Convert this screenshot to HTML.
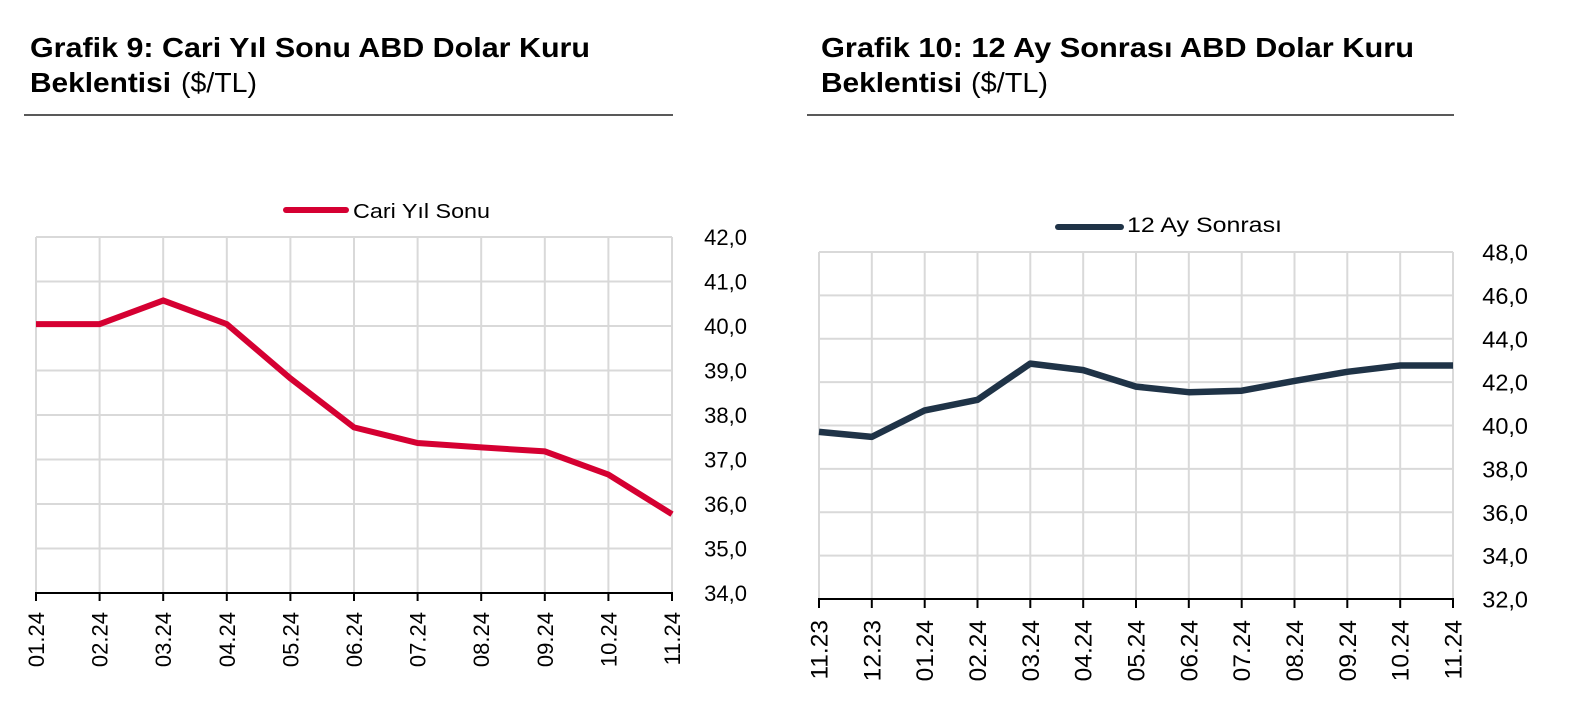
<!DOCTYPE html>
<html>
<head>
<meta charset="utf-8">
<style>
  html,body{margin:0;padding:0;background:#fff;}
  svg{display:block;}
  text{font-family:"Liberation Sans", Arial, sans-serif;fill:#000;}
</style>
</head>
<body>
<svg width="1580" height="722" viewBox="0 0 1580 722" xmlns="http://www.w3.org/2000/svg">
  <rect width="1580" height="722" fill="#fff"/>

  <!-- ===== LEFT TITLE ===== -->
  <text x="30" y="57" font-size="28" font-weight="bold" textLength="560" lengthAdjust="spacingAndGlyphs">Grafik 9: Cari Yıl Sonu ABD Dolar Kuru</text>
  <text x="30" y="92" font-size="28" font-weight="bold" textLength="141" lengthAdjust="spacingAndGlyphs">Beklentisi</text>
  <text x="181" y="92" font-size="28" textLength="76" lengthAdjust="spacingAndGlyphs">($/TL)</text>
  <line x1="24" y1="115" x2="673" y2="115" stroke="#222" stroke-width="1.5"/>

  <!-- ===== RIGHT TITLE ===== -->
  <text x="821" y="57" font-size="28" font-weight="bold" textLength="593" lengthAdjust="spacingAndGlyphs">Grafik 10: 12 Ay Sonrası ABD Dolar Kuru</text>
  <text x="821" y="92" font-size="28" font-weight="bold" textLength="141" lengthAdjust="spacingAndGlyphs">Beklentisi</text>
  <text x="971" y="92" font-size="28" textLength="77" lengthAdjust="spacingAndGlyphs">($/TL)</text>
  <line x1="807" y1="115" x2="1454" y2="115" stroke="#222" stroke-width="1.5"/>

  <!-- ===== LEFT CHART ===== -->
  <g stroke="#d9d9d9" stroke-width="2" fill="none">
    <line x1="36" y1="237" x2="672" y2="237"/>
    <line x1="36" y1="281.5" x2="672" y2="281.5"/>
    <line x1="36" y1="326" x2="672" y2="326"/>
    <line x1="36" y1="370.5" x2="672" y2="370.5"/>
    <line x1="36" y1="415" x2="672" y2="415"/>
    <line x1="36" y1="459.5" x2="672" y2="459.5"/>
    <line x1="36" y1="504" x2="672" y2="504"/>
    <line x1="36" y1="548.5" x2="672" y2="548.5"/>
    <line x1="36" y1="237" x2="36" y2="593"/>
    <line x1="99.6" y1="237" x2="99.6" y2="593"/>
    <line x1="163.2" y1="237" x2="163.2" y2="593"/>
    <line x1="226.8" y1="237" x2="226.8" y2="593"/>
    <line x1="290.4" y1="237" x2="290.4" y2="593"/>
    <line x1="354" y1="237" x2="354" y2="593"/>
    <line x1="417.6" y1="237" x2="417.6" y2="593"/>
    <line x1="481.2" y1="237" x2="481.2" y2="593"/>
    <line x1="544.8" y1="237" x2="544.8" y2="593"/>
    <line x1="608.4" y1="237" x2="608.4" y2="593"/>
    <line x1="672" y1="237" x2="672" y2="593"/>
  </g>
  <g stroke="#000" stroke-width="2">
    <line x1="35" y1="593" x2="673" y2="593"/>
    <line x1="36" y1="593" x2="36" y2="601"/>
    <line x1="99.6" y1="593" x2="99.6" y2="601"/>
    <line x1="163.2" y1="593" x2="163.2" y2="601"/>
    <line x1="226.8" y1="593" x2="226.8" y2="601"/>
    <line x1="290.4" y1="593" x2="290.4" y2="601"/>
    <line x1="354" y1="593" x2="354" y2="601"/>
    <line x1="417.6" y1="593" x2="417.6" y2="601"/>
    <line x1="481.2" y1="593" x2="481.2" y2="601"/>
    <line x1="544.8" y1="593" x2="544.8" y2="601"/>
    <line x1="608.4" y1="593" x2="608.4" y2="601"/>
    <line x1="672" y1="593" x2="672" y2="601"/>
  </g>
  <polyline fill="none" stroke="#d50032" stroke-width="6" stroke-linejoin="miter"
    points="36,324.1 99.6,324.1 163.2,300.5 226.8,324.1 290.4,378.4 354,427.4 417.6,443 481.2,447.4 544.8,451.4 608.4,474.6 672,514.2"/>
  <g font-size="22" text-anchor="end">
    <text x="747" y="245">42,0</text>
    <text x="747" y="289.5">41,0</text>
    <text x="747" y="334">40,0</text>
    <text x="747" y="378.5">39,0</text>
    <text x="747" y="423">38,0</text>
    <text x="747" y="467.5">37,0</text>
    <text x="747" y="512">36,0</text>
    <text x="747" y="556.5">35,0</text>
    <text x="747" y="601">34,0</text>
  </g>
  <g font-size="22" text-anchor="end">
    <text transform="translate(44,612) rotate(-90)">01.24</text>
    <text transform="translate(107.6,612) rotate(-90)">02.24</text>
    <text transform="translate(171.2,612) rotate(-90)">03.24</text>
    <text transform="translate(234.8,612) rotate(-90)">04.24</text>
    <text transform="translate(298.4,612) rotate(-90)">05.24</text>
    <text transform="translate(362,612) rotate(-90)">06.24</text>
    <text transform="translate(425.6,612) rotate(-90)">07.24</text>
    <text transform="translate(489.2,612) rotate(-90)">08.24</text>
    <text transform="translate(552.8,612) rotate(-90)">09.24</text>
    <text transform="translate(616.4,612) rotate(-90)">10.24</text>
    <text transform="translate(680,612) rotate(-90)">11.24</text>
  </g>
  <!-- legend left -->
  <line x1="286" y1="210" x2="346" y2="210" stroke="#d50032" stroke-width="6" stroke-linecap="round"/>
  <text x="353" y="218" font-size="20" textLength="137" lengthAdjust="spacingAndGlyphs">Cari Yıl Sonu</text>

  <!-- ===== RIGHT CHART ===== -->
  <g stroke="#d9d9d9" stroke-width="2" fill="none">
    <line x1="819" y1="252" x2="1453" y2="252"/>
    <line x1="819" y1="295.4" x2="1453" y2="295.4"/>
    <line x1="819" y1="338.8" x2="1453" y2="338.8"/>
    <line x1="819" y1="382.1" x2="1453" y2="382.1"/>
    <line x1="819" y1="425.5" x2="1453" y2="425.5"/>
    <line x1="819" y1="468.9" x2="1453" y2="468.9"/>
    <line x1="819" y1="512.3" x2="1453" y2="512.3"/>
    <line x1="819" y1="555.6" x2="1453" y2="555.6"/>
    <line x1="819" y1="252" x2="819" y2="599"/>
    <line x1="871.8" y1="252" x2="871.8" y2="599"/>
    <line x1="924.7" y1="252" x2="924.7" y2="599"/>
    <line x1="977.5" y1="252" x2="977.5" y2="599"/>
    <line x1="1030.3" y1="252" x2="1030.3" y2="599"/>
    <line x1="1083.2" y1="252" x2="1083.2" y2="599"/>
    <line x1="1136" y1="252" x2="1136" y2="599"/>
    <line x1="1188.8" y1="252" x2="1188.8" y2="599"/>
    <line x1="1241.7" y1="252" x2="1241.7" y2="599"/>
    <line x1="1294.5" y1="252" x2="1294.5" y2="599"/>
    <line x1="1347.3" y1="252" x2="1347.3" y2="599"/>
    <line x1="1400.2" y1="252" x2="1400.2" y2="599"/>
    <line x1="1453" y1="252" x2="1453" y2="599"/>
  </g>
  <g stroke="#000" stroke-width="2">
    <line x1="818" y1="599" x2="1454" y2="599"/>
    <line x1="819" y1="599" x2="819" y2="608"/>
    <line x1="871.8" y1="599" x2="871.8" y2="608"/>
    <line x1="924.7" y1="599" x2="924.7" y2="608"/>
    <line x1="977.5" y1="599" x2="977.5" y2="608"/>
    <line x1="1030.3" y1="599" x2="1030.3" y2="608"/>
    <line x1="1083.2" y1="599" x2="1083.2" y2="608"/>
    <line x1="1136" y1="599" x2="1136" y2="608"/>
    <line x1="1188.8" y1="599" x2="1188.8" y2="608"/>
    <line x1="1241.7" y1="599" x2="1241.7" y2="608"/>
    <line x1="1294.5" y1="599" x2="1294.5" y2="608"/>
    <line x1="1347.3" y1="599" x2="1347.3" y2="608"/>
    <line x1="1400.2" y1="599" x2="1400.2" y2="608"/>
    <line x1="1453" y1="599" x2="1453" y2="608"/>
  </g>
  <polyline fill="none" stroke="#1f3347" stroke-width="6.5" stroke-linejoin="round"
    points="819,431.9 871.8,436.9 924.7,410.4 977.5,399.8 1030.3,363.6 1083.2,370.1 1136,386.6 1188.8,392.2 1241.7,390.7 1294.5,380.9 1347.3,371.8 1400.2,365.5 1453,365.5"/>
  <g font-size="23.5" text-anchor="end">
    <text x="1528" y="260.5">48,0</text>
    <text x="1528" y="303.9">46,0</text>
    <text x="1528" y="347.3">44,0</text>
    <text x="1528" y="390.6">42,0</text>
    <text x="1528" y="434">40,0</text>
    <text x="1528" y="477.4">38,0</text>
    <text x="1528" y="520.8">36,0</text>
    <text x="1528" y="564.1">34,0</text>
    <text x="1528" y="607.5">32,0</text>
  </g>
  <g font-size="24.5" text-anchor="end">
    <text transform="translate(827.5,620) rotate(-90)">11.23</text>
    <text transform="translate(880.3,620) rotate(-90)">12.23</text>
    <text transform="translate(933.2,620) rotate(-90)">01.24</text>
    <text transform="translate(986,620) rotate(-90)">02.24</text>
    <text transform="translate(1038.8,620) rotate(-90)">03.24</text>
    <text transform="translate(1091.7,620) rotate(-90)">04.24</text>
    <text transform="translate(1144.5,620) rotate(-90)">05.24</text>
    <text transform="translate(1197.3,620) rotate(-90)">06.24</text>
    <text transform="translate(1250.2,620) rotate(-90)">07.24</text>
    <text transform="translate(1303,620) rotate(-90)">08.24</text>
    <text transform="translate(1355.8,620) rotate(-90)">09.24</text>
    <text transform="translate(1408.7,620) rotate(-90)">10.24</text>
    <text transform="translate(1461.5,620) rotate(-90)">11.24</text>
  </g>
  <!-- legend right -->
  <line x1="1058" y1="227" x2="1121" y2="227" stroke="#1f3347" stroke-width="6" stroke-linecap="round"/>
  <text x="1127" y="232" font-size="21" textLength="155" lengthAdjust="spacingAndGlyphs">12 Ay Sonrası</text>
</svg>
</body>
</html>
